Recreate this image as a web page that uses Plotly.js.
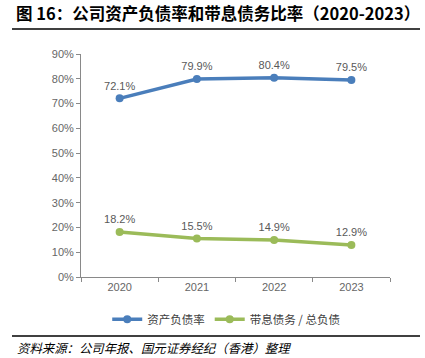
<!DOCTYPE html>
<html><head><meta charset="utf-8">
<script src="https://cdn.plot.ly/plotly-3.0.1.min.js"></script>
<style>html,body{margin:0;padding:0;background:#fff}#c{width:425px;height:358px}</style>
</head><body><div id="c"></div>
<script>
const years = ['2020','2021','2022','2023'];
const debtRatio = [0.721, 0.799, 0.804, 0.795];
const interestDebtRatio = [0.182, 0.155, 0.149, 0.129];
const seriesNames = ['资产负债率','带息债务 / 总负债'];
const titleText = '图 16：公司资产负债率和带息债务比率（2020-2023）';
const sourceText = '资料来源：公司年报、国元证券经纪（香港）整理';

const fmt = v => (v*100).toFixed(1) + '%';
const traces = [
  {x: years, y: debtRatio, name: seriesNames[0], type:'scatter', mode:'lines+markers+text',
   line:{color:'#4a7ebb', width:3.5}, marker:{color:'#4a7ebb', size:8},
   text: debtRatio.map(fmt), textposition:'top center',
   textfont:{family:'Liberation Sans, Arial', size:11, color:'#595959'}, cliponaxis:false},
  {x: years, y: interestDebtRatio, name: seriesNames[1], type:'scatter', mode:'lines+markers+text',
   line:{color:'#9bbb59', width:3.5}, marker:{color:'#9bbb59', size:8},
   text: interestDebtRatio.map(fmt), textposition:'top center',
   textfont:{family:'Liberation Sans, Arial', size:11, color:'#595959'}, cliponaxis:false}
];
const layout = {
  width:425, height:358,
  margin:{l:81, r:35, t:54, b:81},
  paper_bgcolor:'#fff', plot_bgcolor:'#fff',
  showlegend:true,
  legend:{orientation:'h', x:0.47, xanchor:'center', y:-0.19, yanchor:'middle',
    font:{family:'Noto Sans CJK SC, Liberation Sans', size:11.5, color:'#404040'},
    itemwidth:30, tracegroupgap:0},
  xaxis:{type:'category', range:[-0.5,3.5], showline:true, linecolor:'#898989', linewidth:1,
    ticks:'outside', tickson:'boundaries', ticklen:4, tickcolor:'#898989',
    showgrid:false, zeroline:false,
    tickfont:{family:'Liberation Sans, Arial', size:11, color:'#666666'}},
  yaxis:{range:[0,0.9], dtick:0.1, tickformat:'.0%', showline:true, linecolor:'#898989', linewidth:1,
    ticks:'outside', ticklen:4, tickcolor:'#898989', showgrid:false, zeroline:false,
    tickfont:{family:'Liberation Sans, Arial', size:11, color:'#666666'}},
  title:{text:'<b>'+titleText+'</b>', x:16/425, xanchor:'left', y:1-14/358, yanchor:'middle',
    font:{family:'Noto Sans CJK SC', size:16.5, color:'#000'}},
  shapes:[
    {type:'line', xref:'paper', yref:'paper', x0:-69/309, x1:(420-81)/309, y0:1+(54-29)/223, y1:1+(54-29)/223,
     line:{color:'#000', width:1.5}},
    {type:'line', xref:'paper', yref:'paper', x0:-69/309, x1:(420-81)/309, y0:-(336-277)/223, y1:-(336-277)/223,
     line:{color:'#000', width:1.5}}
  ],
  annotations:[
    {text:'<i>'+sourceText+'</i>', xref:'paper', yref:'paper', x:-66/309, xanchor:'left',
     y:-(348-277)/223, yanchor:'middle', showarrow:false,
     font:{family:'Noto Sans CJK SC', size:12.4, color:'#000'}}
  ]
};
Plotly.newPlot('c', traces, layout, {displayModeBar:false, staticPlot:true});
</script></body></html>
